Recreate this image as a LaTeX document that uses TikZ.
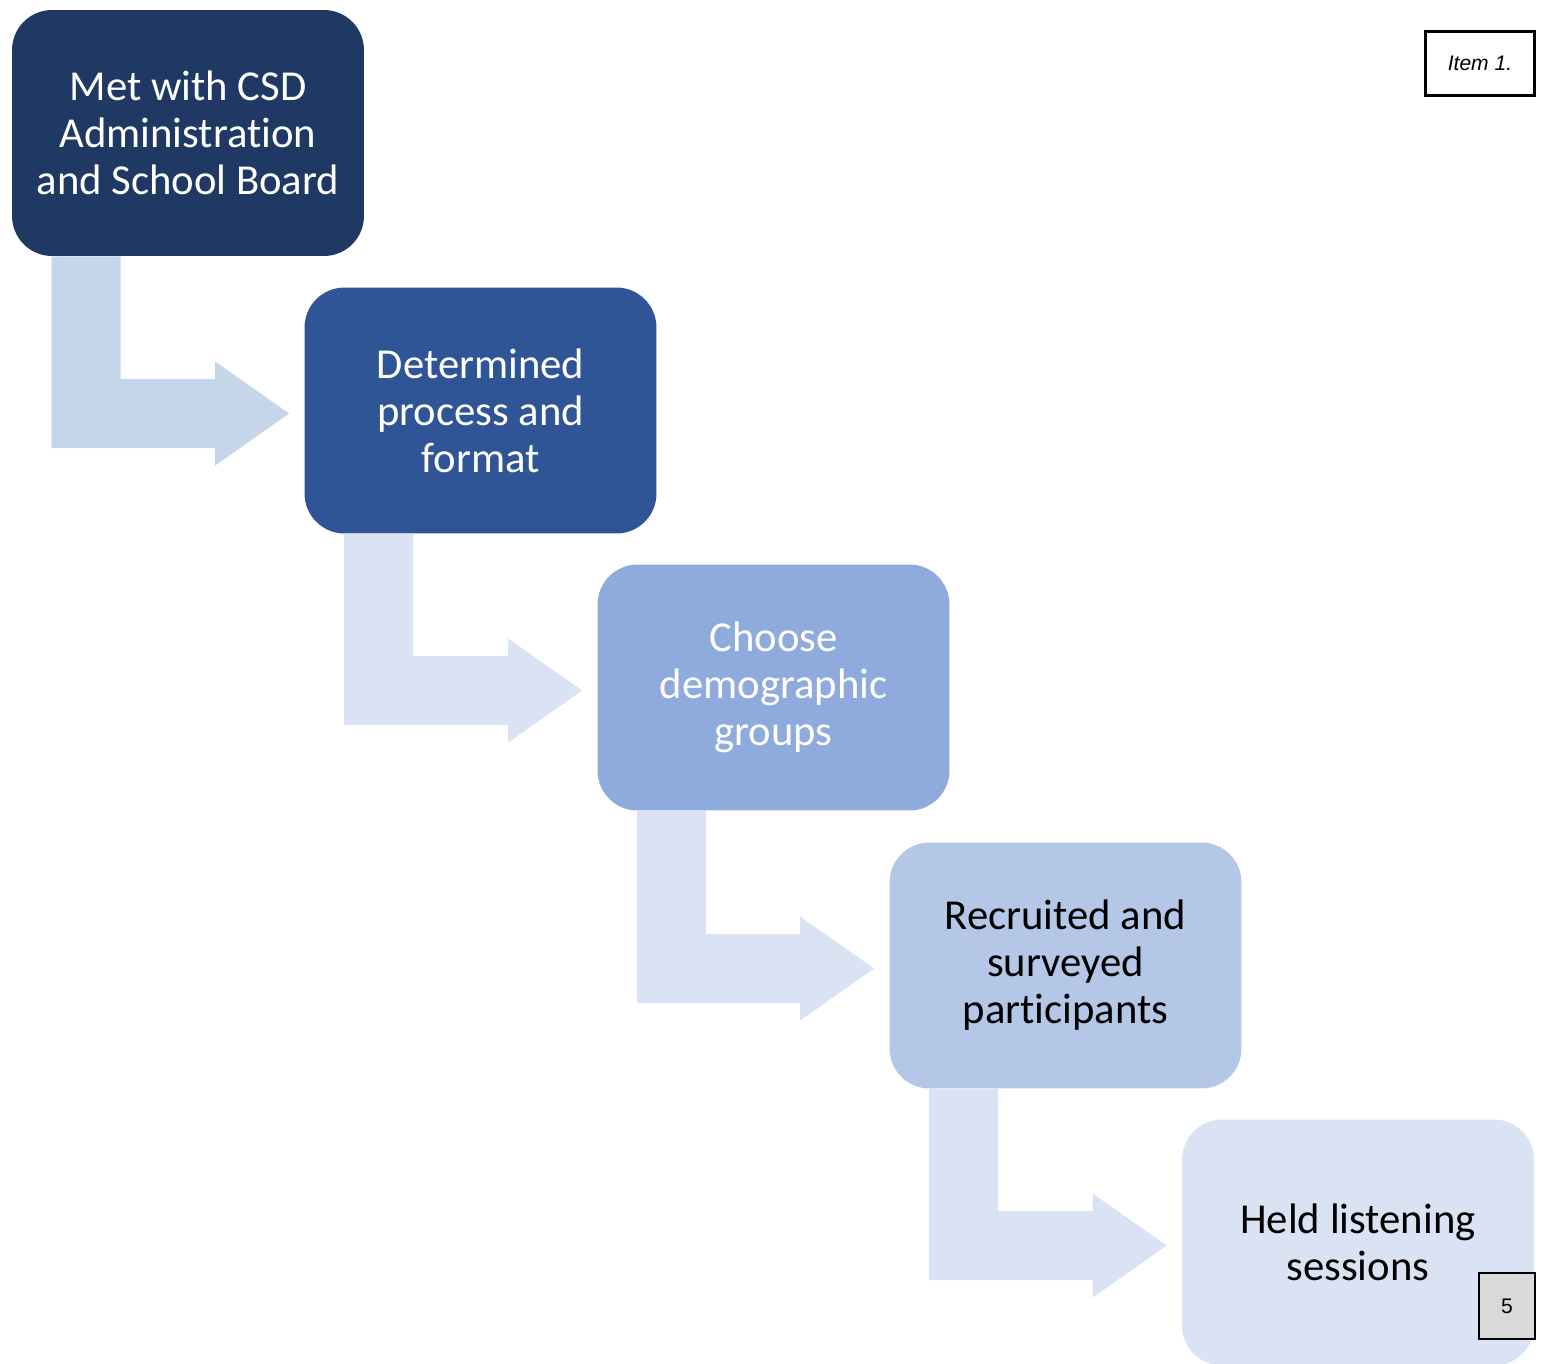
\documentclass[tikz,border=0pt]{standalone}
\usepackage{fontspec}
\setmainfont{Carlito}[Ligatures=CommonOff]
\newfontfamily\arialfont{Liberation Sans}
\usepackage{xcolor}
\usepackage{tikz}
\usetikzlibrary{positioning, calc}

\definecolor{navy}{HTML}{203864}
\definecolor{midblue}{HTML}{2F5597}
\definecolor{softblue}{HTML}{8FAADC}
\definecolor{paleblue}{HTML}{B4C7E7}
\definecolor{iceblue}{HTML}{DAE3F3}
\definecolor{arrowblue}{HTML}{C5D5EA}
\definecolor{pagegray}{HTML}{D9D9D9}

\begin{document}
\begin{tikzpicture}[
    x=0.02cm, y=-0.02cm,
    stepbox/.style={rectangle, rounded corners=0.8cm,
                minimum width=7.04cm, minimum height=4.92cm, inner sep=0pt,
                align=center, font=\fontsize{24.3}{26.7}\selectfont},
    tagbox/.style={rectangle, draw=black, line width=1.3pt, inner sep=0pt,
                font=\arialfont\fontsize{12}{14}\selectfont}
]
\useasboundingbox (0,0) rectangle (1544,1363);

\node[stepbox, fill=navy, text=white]      (met)  at (188,133)    {Met with CSD\\Administration\\and School Board};
\node[stepbox, fill=midblue, text=white]   (det)  at (480.5,410.5) {Determined\\process and\\format};
\node[stepbox, fill=softblue, text=white]  (cho)  at (773.5,687.5) {Choose\\demographic\\groups};
\node[stepbox, fill=paleblue, text=black]  (rec)  at (1065.5,965.5) {Recruited and\\surveyed\\participants};
\node[stepbox, fill=iceblue, text=black]   (held) at (1358,1242.5) {Held listening\\sessions};

% bent arrows between the steps
\foreach \a/\b/\c in {met/det/arrowblue, det/cho/iceblue, cho/rec/iceblue, rec/held/iceblue} {
  \coordinate (L) at ($(\a.south west)+(40,0)$);
  \coordinate (R) at ($(\a.south west)+(109,0)$);
  \coordinate (H) at ($(\b.west)+(-89,3)$);
  \coordinate (T) at ($(\b.west)+(-15,3)$);
  \fill[\c] (L) -- (R) -- ($(R |- H)+(0,-34.5)$) -- ($(H)+(0,-34.5)$)
        -- ($(H)+(0,-52)$) -- (T) -- ($(H)+(0,52)$) -- ($(H)+(0,34.5)$)
        -- ($(L |- H)+(0,34.5)$) -- cycle;
}

\node[tagbox, minimum width=2.18cm, minimum height=1.28cm] (item) at (1480,63.5) {\itshape Item 1.};
\node[tagbox, fill=pagegray, minimum width=1.12cm, minimum height=1.32cm] (page) at (1507,1306) {5};
\end{tikzpicture}
\end{document}
